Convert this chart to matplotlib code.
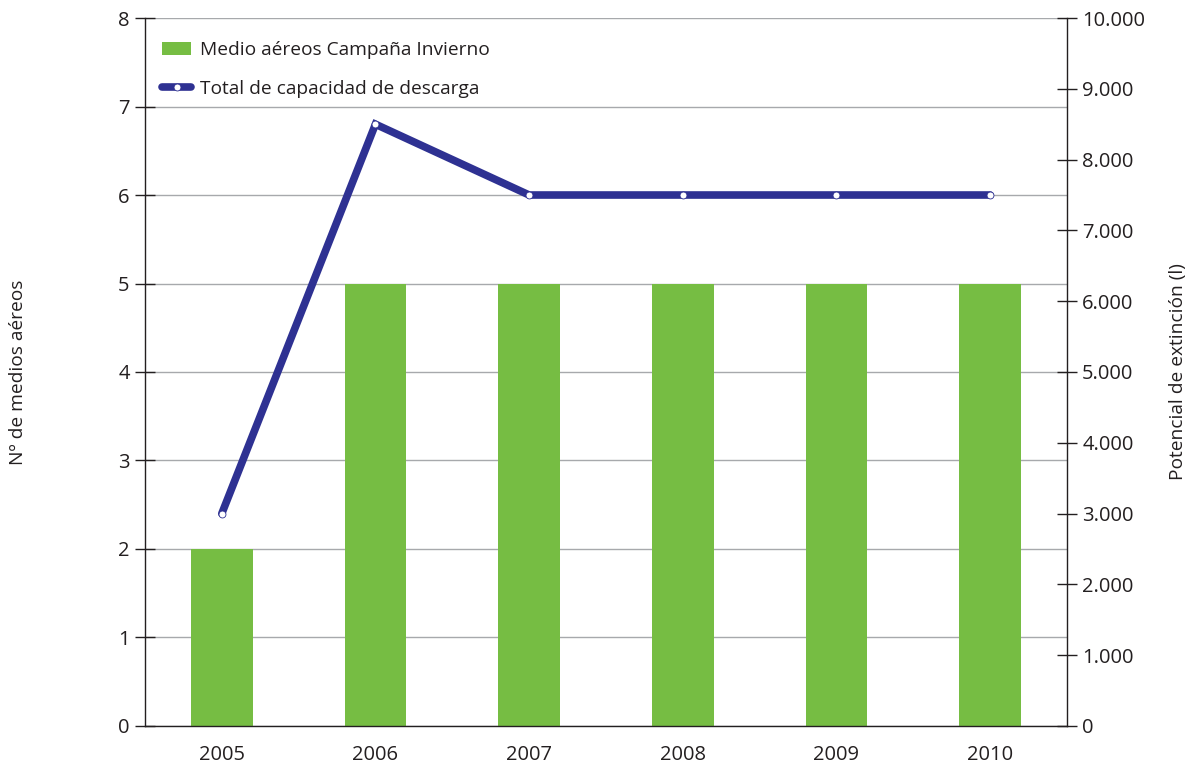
import matplotlib
matplotlib.use("Agg")
import matplotlib.pyplot as plt

years = ["2005", "2006", "2007", "2008", "2009", "2010"]
medios_aereos = [2, 5, 5, 5, 5, 5]
capacidad_descarga = [3000, 8500, 7500, 7500, 7500, 7500]

left_ticks = [0, 1, 2, 3, 4, 5, 6, 7, 8]
right_ticks = [0, 1000, 2000, 3000, 4000, 5000, 6000, 7000, 8000, 9000, 10000]
right_labels = ["0", "1.000", "2.000", "3.000", "4.000", "5.000",
                "6.000", "7.000", "8.000", "9.000", "10.000"]

GREEN = "#76BD43"
BLUE = "#2E3192"
TEXT = "#231F20"
FS = 14.5
FS_TXT = 13.8

plt.rcParams["font.family"] = ["Open Sans", "DejaVu Sans"]

fig = plt.figure(figsize=(11.96, 7.67), dpi=100)
ax = fig.add_axes([0.1212, 0.0535, 0.7709, 0.923])
ax2 = ax.twinx()

x = list(range(len(years)))
ax.bar(x, medios_aereos, width=0.4, color=GREEN, zorder=2,
       label="Medio aéreos Campaña Invierno")
ax2.plot(x, capacidad_descarga, color=BLUE, lw=5.5, marker="o", ms=5,
         mfc="white", mec=BLUE, mew=0.6, solid_joinstyle="miter",
         solid_capstyle="round",
         label="Total de capacidad de descarga", zorder=3)

ax.set_xlim(-0.5, 5.5)
ax.set_ylim(0, 8)
ax2.set_ylim(0, 10000)
ax.set_yticks(left_ticks)
ax2.set_yticks(right_ticks)
ax2.set_yticklabels(right_labels)
ax.set_xticks(x)
ax.set_xticklabels(years)

ax.grid(axis="y", color="#A7A9AC", linewidth=1.0, zorder=0)
ax.set_axisbelow(True)

for a in (ax, ax2):
    a.spines["top"].set_visible(False)
    for s in a.spines.values():
        s.set_color(TEXT)
        s.set_linewidth(1.0)
ax.spines["right"].set_visible(False)
ax2.spines["left"].set_visible(False)
ax2.spines["bottom"].set_visible(False)

ax.tick_params(axis="y", direction="inout", length=14, width=1.0,
               labelsize=FS, colors=TEXT, pad=4)
ax.tick_params(axis="x", length=0, labelsize=FS, colors=TEXT, pad=14)
ax2.tick_params(axis="y", direction="inout", length=14, width=1.0,
                labelsize=FS, colors=TEXT, pad=4)

ax.set_ylabel("Nº de medios aéreos", fontsize=FS_TXT, color=TEXT)
ax.yaxis.set_label_coords(-0.1377, 0.5)
ax2.set_ylabel("Potencial de extinción (l)", fontsize=FS_TXT, color=TEXT)
ax2.yaxis.set_label_coords(1.1204, 0.5)
ax.yaxis.label.set_va("center")
ax2.yaxis.label.set_va("center")

h1, l1 = ax.get_legend_handles_labels()
h2, l2 = ax2.get_legend_handles_labels()
leg = ax2.legend(h1 + h2, l1 + l2, loc="upper left", frameon=False,
                 fontsize=FS_TXT, bbox_to_anchor=(0.0, 0.992),
                 handlelength=1.5, handletextpad=0.45, labelspacing=1.1)
for t in leg.get_texts():
    t.set_color(TEXT)

fig.savefig("out.png", dpi=100, facecolor="white")
